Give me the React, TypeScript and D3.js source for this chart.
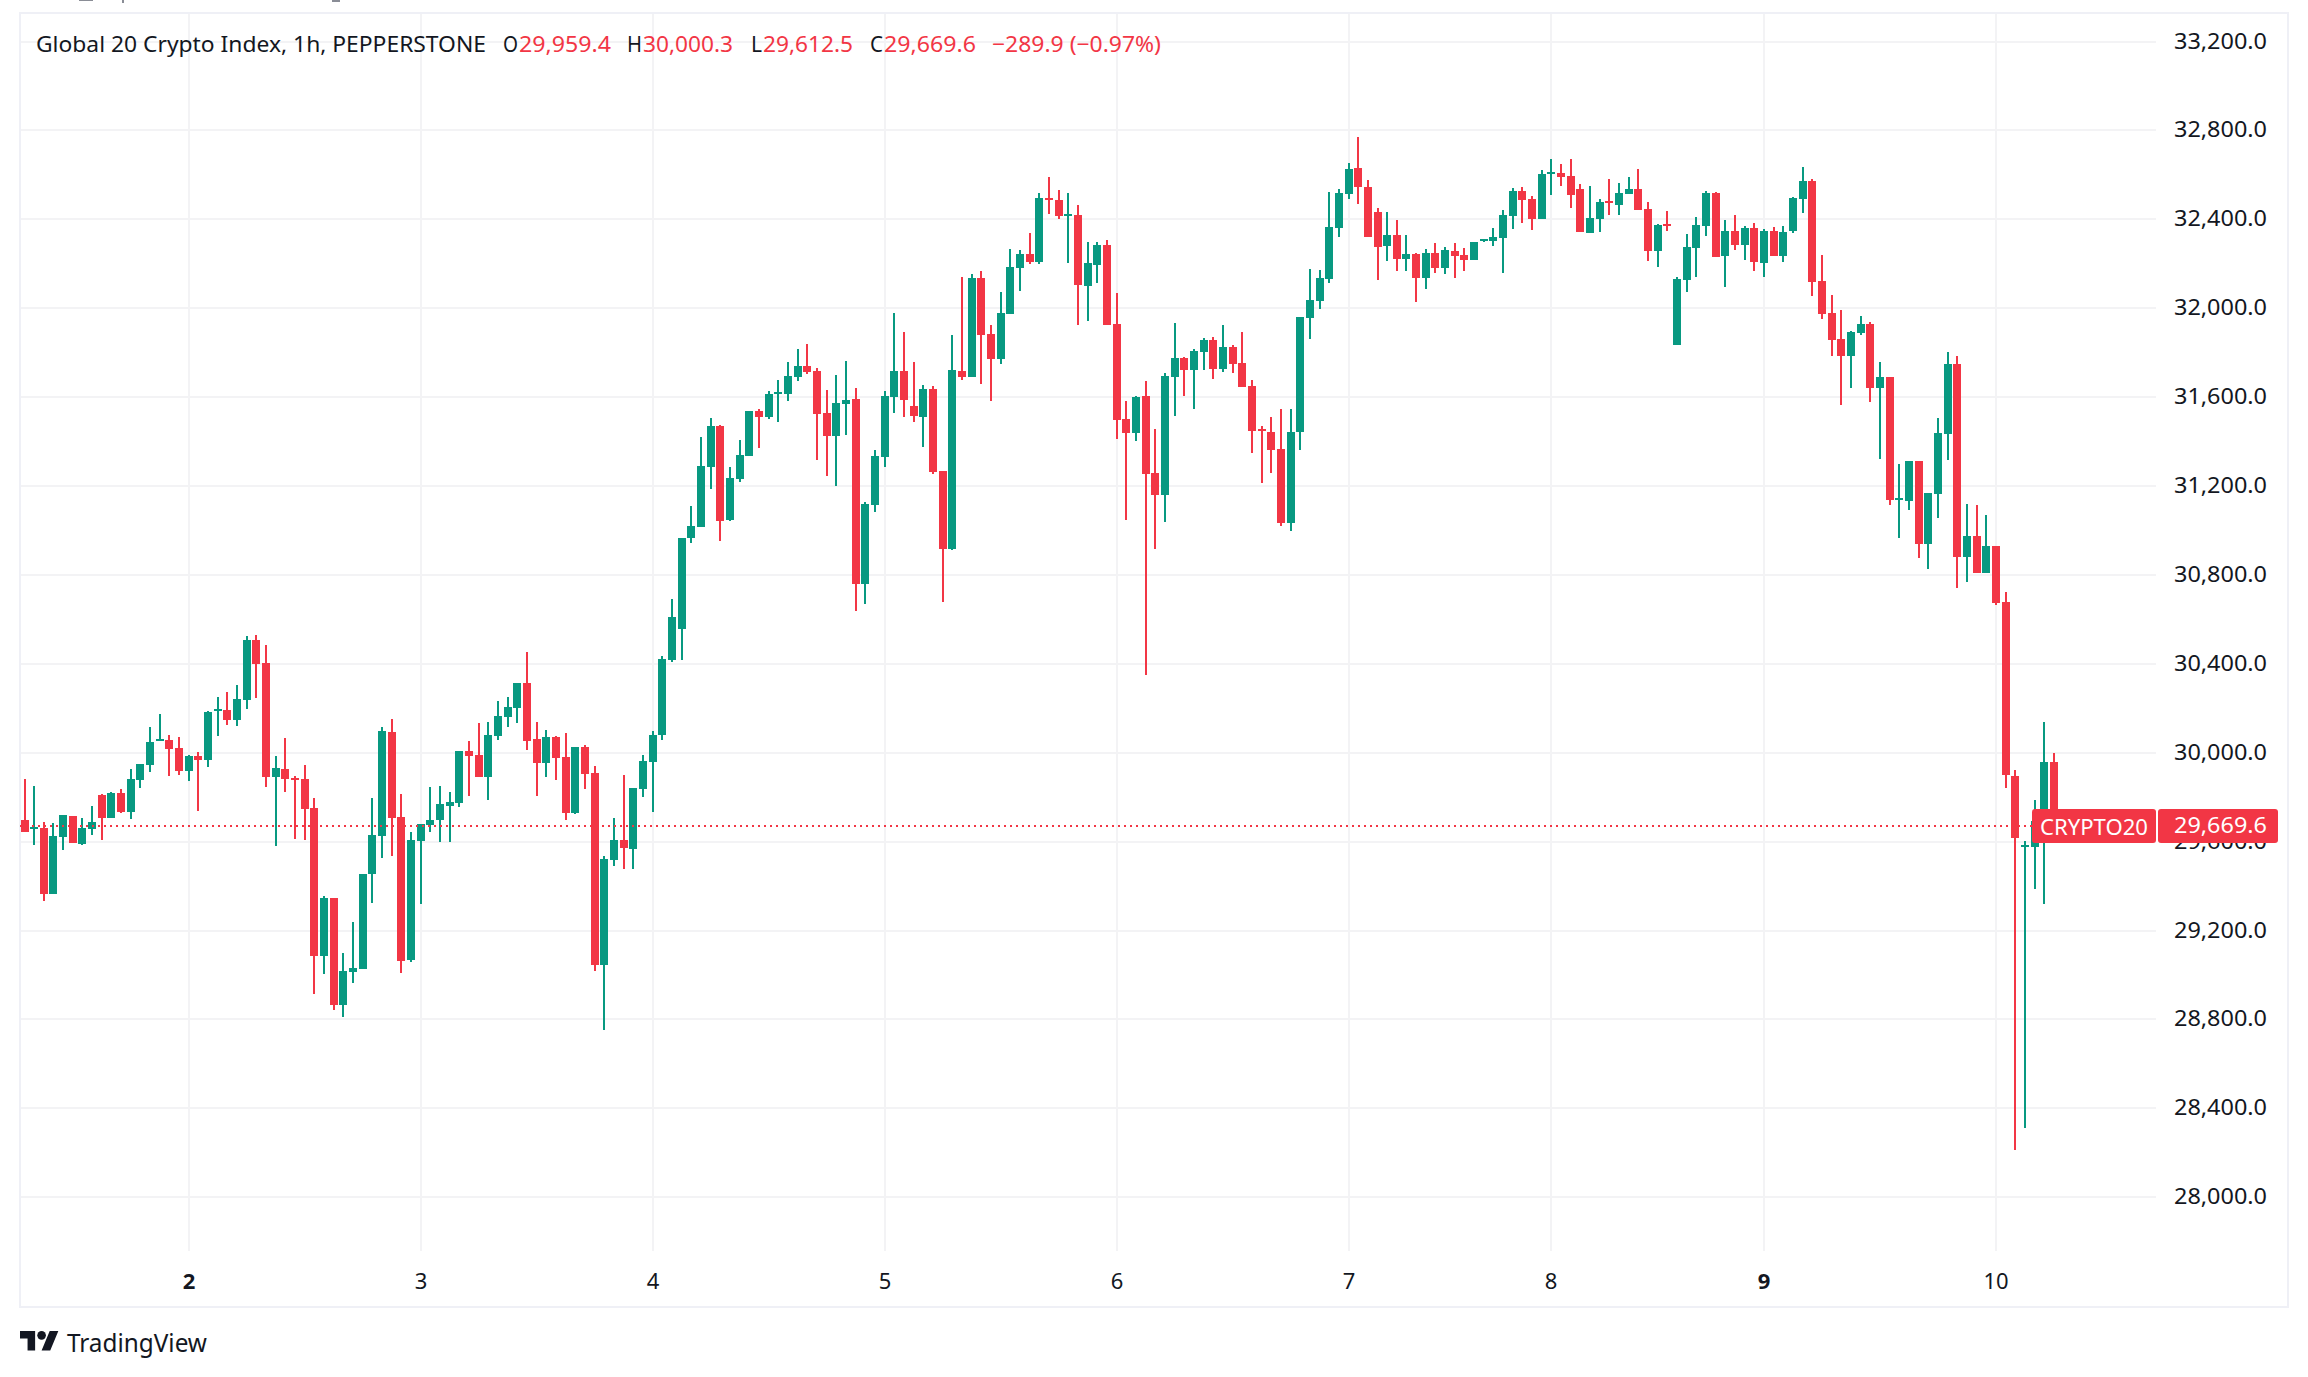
import React from "react";
import * as d3 from "d3";

const opens = [29697,29656,29661,29364,29620.5,29715,29589,29656.5,29809.5,29706,29818.5,29733,29877,29944.5,30052.5,30057,30021,29917.5,29985,29967,30187.5,30192,30147,30237,30507,30403.5,29890.5,29926.5,29886,29881.5,29751,29085,29346,28864.5,29013,29026.5,29454,29625,30093,29710.5,29067,29602.5,29674.5,29697,29760,29773.5,30007.5,29989.5,29890.5,30075,30160.5,30201,30313.5,30061.5,29953.5,30070.5,29980.5,29728.5,30025.5,29908.5,29044.5,29517,29607,29566.5,29836.5,29958,30079.5,30417,30556.5,30966,31015.5,31285.5,31470,31047,31231.5,31335,31537.5,31510.5,31614,31614,31690.5,31740,31717.5,31528.5,31425,31569,31591.5,30759,31114.5,31330.5,31600.5,31717.5,31560,31510.5,31636.5,31267.5,30916.5,31717.5,31690.5,32136,31884,31771.5,31974,32181,32244,32209,32498,32486.5,32415.5,32420,32100,32195,32285,31930,31502.5,31439.5,31606.5,31259.5,31160,31692,31777,31723,31804,31857,31728,31826,31755,31651,31458,31444,31368,31036,31444,31957,32034,32132,32362,32515,32631,32545.5,32433,32280,32329.5,32221.5,32244,32136,32248.5,32181,32257.5,32239.5,32217,32302.5,32302.5,32316,32415,32527.5,32491.5,32401.5,32604,32608.5,32595,32536.5,32338.5,32401.5,32482.5,32464.5,32514,32536.5,32446.5,32257.5,32379,31834.5,32127,32271,32370,32518.5,32235,32347.5,32284.5,32361,32203.5,32347.5,32235,32347.5,32491.5,32572.5,32122.5,31978.5,31861.5,31785,31888.5,31929,31641,31690.5,31137,31132.5,31312.5,30939,31164,31434,31749,30880.5,30975,30808.5,30930,30679,29895.5,29578,29578,29690,29959.4];
const highs = [29881,29850,29688,29683.5,29719.5,29715,29706,29760,29814,29823,29836.5,29926.5,29949,30115.5,30174,30079.5,30070.5,29989.5,30003,30187.5,30250.5,30273,30304.5,30525,30529.5,30484.5,29985,30066,29895,29944.5,29796,29355,29346,29098.5,29238,29454,29796,30115.5,30151.5,29814,29643,29679,29845.5,29850,29823,30007.5,30052.5,30133.5,30138,30232.5,30250.5,30313.5,30453,30138,30102,30075,30088.5,30025.5,30034.5,29940,29535,29706,29899.5,29841,29989.5,30097.5,30435,30691.5,30966,31110,31420.5,31506,31474.5,31285.5,31407,31537.5,31546.5,31627.5,31677,31758,31816.5,31839,31731,31632,31699.5,31762.5,31641,31128,31362,31627.5,31978.5,31893,31758,31654.5,31650,31267.5,31879.5,32140.5,32154,32167.5,31924.5,32073,32266.5,32262,32338.5,32518,32590.6,32532,32518,32464,32299,32299,32307,32069,31583,31606.5,31673,31458,31709,31935,31782,31818,31867,31871,31925,31835,31894,31677.5,31471,31512,31548,31548,31961,32177,32173,32523,32537,32654,32770.5,32577,32451,32433,32397,32329.5,32248.5,32266.5,32293.5,32275.5,32293.5,32271,32298,32311.5,32361,32442,32541,32545.5,32505,32622,32671.5,32649,32671.5,32559,32550,32491.5,32581.5,32563.5,32590.5,32626.5,32478,32379,32437.5,32140.5,32334,32410.5,32527.5,32523,32397,32419.5,32370,32383.5,32356.5,32365.5,32370,32500.5,32635.5,32581.5,32239.5,32059.5,31992,31897.5,31965,31938,31758,31690.5,31299,31312.5,31312.5,31168.5,31506,31803,31785,31119,31114.5,31069.5,30930,30723,29921.6,29604,29787,30138.6,30000.3];
const lows = [29643,29584.5,29332.5,29364,29562,29593.5,29584.5,29629.5,29607,29706,29728.5,29701.5,29841,29913,30052.5,29895,29899.5,29872.5,29737.5,29935.5,30075,30124.5,30120,30196.5,30246,29845.5,29580,29823,29611.5,29607,28914,29004,28842,28810.5,28963.5,29026.5,29323.5,29526,29535,29008.5,29058,29319,29643,29598,29598,29755.5,29805,29890.5,29787,30057,30115.5,30133.5,30012,29805,29890.5,29877,29697,29724,29836.5,29017.5,28752,29490,29476.5,29476.5,29800.5,29733,30057,30408,30417,30943.5,31015.5,31186.5,30952.5,31042.5,31218,31335,31371,31501.5,31488,31582.5,31672.5,31704,31317,31245,31200,31429.5,30637.5,30669,31083,31285.5,31528.5,31510.5,31488,31375.5,31254,30678,30912,31677,31690.5,31659,31582.5,31749,31974,32077.5,32199,32199,32425,32401,32204,31925,31942,32114,31925,31413,31048,31403,30351,30917,31039,31517,31606.5,31548,31723,31682,31714,31709,31646,31349.5,31215.5,31260,31021.5,30999.5,31364,31862,31998,32114,32321,32491,32469,32320.5,32127,32212.5,32167.5,32167.5,32028,32086.5,32158.5,32154,32136,32167.5,32217,32298,32280,32158.5,32356.5,32383.5,32352,32401.5,32509.5,32550,32451,32343,32338.5,32343,32419.5,32419.5,32514,32442,32212.5,32185.5,32347.5,31834.5,32073,32140.5,32325,32230.5,32095.5,32262,32217,32167.5,32140.5,32235,32208,32338.5,32428.5,32055,31951.5,31785,31564.5,31641,31879.5,31578,31321.5,31114.5,30966,31092,30876,30826.5,31056,31317,30741,30768,30808.5,30808.5,30664.5,29841,28214,28310,29389,29319,29612.5];
const closes = [29643,29665,29364,29625,29719.5,29593.5,29661,29688,29706,29818.5,29733,29881.5,29949,30048,30061.5,30016.5,29917.5,29985,29967,30183,30196.5,30147,30241.5,30507,30399,29890.5,29931,29881.5,29877,29746.5,29085,29346,28864.5,29017.5,29031,29454,29629.5,30097.5,29706,29062.5,29607,29679,29697,29769,29778,30007.5,29985,29890.5,30079.5,30165,30205.5,30313.5,30052.5,29953.5,30070.5,29976,29728.5,30025.5,29904,29044.5,29521.5,29607,29571,29841,29962.5,30079.5,30421.5,30610.5,30966,31020,31290,31470,31042.5,31236,31339.5,31537.5,31510.5,31614,31623,31695,31740,31713,31524,31425,31573.5,31587,30759,31119,31335,31605,31717.5,31587,31515,31636.5,31263,30916.5,31722,31690.5,32136,31879.5,31771.5,31978.5,32185.5,32244,32208,32496,32491,32415.5,32425,32105,32204,32285,31925,31498,31439.5,31602,31255,31160,31696,31777,31723,31808,31857,31728,31826,31750,31646,31449,31449,31364,31036,31444,31961,32037,32136,32365,32518,32627,32545.5,32320.5,32275.5,32329.5,32221.5,32244,32136,32248.5,32181,32262,32235,32217,32298,32311.5,32320.5,32419.5,32527.5,32487,32401.5,32604,32613,32590.5,32509.5,32343,32406,32478,32473.5,32518.5,32536.5,32442,32257.5,32374.5,32370,32131.5,32275.5,32374.5,32518.5,32230.5,32347.5,32284.5,32361,32208,32347.5,32235,32343,32496,32572.5,32118,31974,31857,31785,31893,31929,31641,31690.5,31137,31146,31312.5,30939,31168.5,31438.5,31749,30880.5,30975,30808.5,30930,30673.5,29899.5,29616,29586,29690.6,29958,29669.6];

const yTicks = [33200,32800,32400,32000,31600,31200,30800,30400,30000,29600,29200,28800,28400,28000];
const dayIndex = [17,41,65,89,113,137,158,180,204];
const dayLabels = ["2","3","4","5","6","7","8","9","10"];
const boldDays = ["2","9"];
const lastPrice = 29669.6;
const symbolTag = "CRYPTO20";
const headerTitle = "Global 20 Crypto Index, 1h, PEPPERSTONE";
const headerParts = [
  { t: "O", x: 503, w: 15, c: 0 },
  { t: "29,959.4", x: 519, w: 92, c: 1 },
  { t: "H", x: 627, w: 15, c: 0 },
  { t: "30,000.3", x: 643, w: 90, c: 1 },
  { t: "L", x: 751, w: 11, c: 0 },
  { t: "29,612.5", x: 763, w: 90, c: 1 },
  { t: "C", x: 870, w: 13, c: 0 },
  { t: "29,669.6", x: 884, w: 92, c: 1 },
  { t: "\u2212289.9 (\u22120.97%)", x: 992, w: 169, c: 1 },
];

const UP = "#089981";
const DOWN = "#f23645";
const INK = "#131722";
const GRID = "#f3f3f5";
const BORDER = "#eff0f6";
const FONT = "'Noto Sans', sans-serif";

const W = 2308, H = 1377;
const L = 20, T = 13, PLOT_R = 2156, PLOT_B = 1251, R = 2288, B = 1307;

export default function App() {
  const x = d3.scaleLinear().domain([0, 210]).range([24.5, 2054]);
  const y = d3.scaleLinear().domain([28000, 33200]).range([1197.2, 41.6]);
  const px = (i: number) => Math.round(x(i));
  const py = (v: number) => Math.round(y(v));
  const lastY = py(lastPrice);
  return (
    <svg width={W} height={H} viewBox={`0 0 ${W} ${H}`} style={{ position: "absolute", left: 0, top: 0, display: "block", background: "#fff" }} fontFamily={FONT}>
      <defs>
        <clipPath id="plot"><rect x={L} y={T} width={PLOT_R - L} height={PLOT_B - T} /></clipPath>
      </defs>
      <g fill="#8a8d96">
        <rect x={79} y={0} width={14} height={1} />
        <rect x={122} y={0} width={2} height={3} />
        <rect x={332} y={0} width={8} height={2} />
      </g>
      <g shapeRendering="crispEdges">
        {yTicks.map(v => <rect key={v} x={L} y={py(v) - 1} width={PLOT_R - L} height={2} fill={GRID} />)}
        {dayIndex.map(i => <rect key={i} x={px(i) - 1} y={T} width={2} height={PLOT_B - T} fill={GRID} />)}
        <rect x={L - 1} y={T - 1} width={R - L + 2} height={2} fill={BORDER} />
        <rect x={L - 1} y={B - 1} width={R - L + 2} height={2} fill={BORDER} />
        <rect x={L - 1} y={T - 1} width={2} height={B - T + 2} fill={BORDER} />
        <rect x={R - 1} y={T - 1} width={2} height={B - T + 2} fill={BORDER} />
      </g>
      <g clipPath="url(#plot)" shapeRendering="crispEdges">
        {opens.map((o, i) => {
          const c = closes[i];
          const col = c >= o ? UP : DOWN;
          const top = py(Math.max(o, c));
          const bot = py(Math.min(o, c));
          const cx = px(i);
          return (
            <g key={i} fill={col}>
              <rect x={cx - 1} y={py(highs[i])} width={2} height={Math.max(1, py(lows[i]) - py(highs[i]))} />
              <rect x={cx - 4} y={top} width={8} height={Math.max(2, bot - top)} />
            </g>
          );
        })}
        <line x1={L} x2={PLOT_R} y1={lastY} y2={lastY} stroke={DOWN} strokeWidth={2} strokeDasharray="2 4" />
      </g>
      <text x={36} y={43} dominantBaseline="central" fontSize={22} fill={INK} textLength={450} lengthAdjust="spacingAndGlyphs">{headerTitle}</text>
      {headerParts.map(p => (
        <text key={p.t} x={p.x} y={43} dominantBaseline="central" fontSize={22} fill={p.c ? DOWN : INK} textLength={p.w} lengthAdjust="spacingAndGlyphs">{p.t}</text>
      ))}
      {yTicks.map(v => (
        <text key={v} x={2174} y={py(v) - 1.5} dominantBaseline="central" fontSize={22.5} fill={INK} textLength={93} lengthAdjust="spacingAndGlyphs">{d3.format(",.1f")(v)}</text>
      ))}
      {dayIndex.map((i, k) => (
        <text key={i} x={px(i)} y={1280} dominantBaseline="central" textAnchor="middle" fontSize={22} fontWeight={boldDays.includes(dayLabels[k]) ? 700 : 400} fill={INK}>{dayLabels[k]}</text>
      ))}
      <rect x={2032} y={lastY - 17} width={124} height={34} rx={3} fill={DOWN} />
      <rect x={2158} y={lastY - 17} width={120} height={34} rx={3} fill={DOWN} />
      <text x={2040} y={lastY} dominantBaseline="central" fontSize={22} fill="#fff" textLength={108} lengthAdjust="spacingAndGlyphs">{symbolTag}</text>
      <text x={2174} y={lastY - 1.5} dominantBaseline="central" fontSize={22.5} fill="#fff" textLength={93} lengthAdjust="spacingAndGlyphs">{d3.format(",.1f")(lastPrice)}</text>
      <g transform="translate(20,1326.7) scale(1.08)" fill={INK}>
        <path d="M14 22H7V11H0V4h14v18zM28 22h-8l7.5-18h8L28 22z" />
        <circle cx={20} cy={8} r={4} />
      </g>
      <text x={67} y={1342} dominantBaseline="central" fontSize={26} fill={INK} textLength={140} lengthAdjust="spacingAndGlyphs">TradingView</text>
    </svg>
  );
}
